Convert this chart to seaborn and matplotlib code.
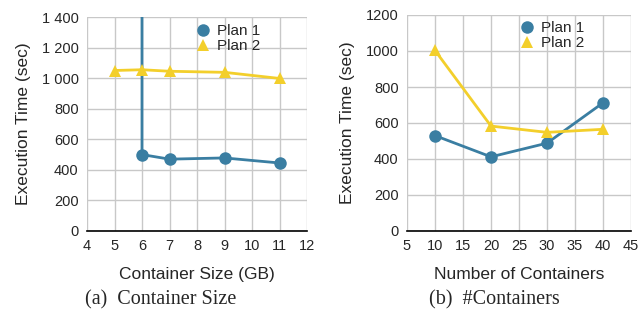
import pandas as pd
import seaborn as sns
import matplotlib.pyplot as plt
from matplotlib.ticker import FuncFormatter

# data (a): container size
size_p1 = [6, 6, 7, 9, 11]
time_size_p1 = [3000, 500, 470, 478, 445]  # first point off-chart -> vertical line
size_p2 = [5, 6, 7, 9, 11]
time_size_p2 = [1050, 1055, 1045, 1038, 998]

# data (b): number of containers
cont_x = [10, 20, 30, 40]
time_cont_p1 = [530, 412, 488, 712]
time_cont_p2 = [1003, 583, 548, 565]

blue = "#3a7ea2"
yellow = "#f3cf2b"

sns.set_style("whitegrid")
plt.rcParams["font.family"] = ["Liberation Sans", "DejaVu Sans"]

df_a = pd.concat([
    pd.DataFrame({"x": size_p1, "y": time_size_p1, "plan": "Plan 1"}),
    pd.DataFrame({"x": size_p2, "y": time_size_p2, "plan": "Plan 2"}),
])
df_b = pd.concat([
    pd.DataFrame({"x": cont_x, "y": time_cont_p1, "plan": "Plan 1"}),
    pd.DataFrame({"x": cont_x, "y": time_cont_p2, "plan": "Plan 2"}),
])

fig = plt.figure(figsize=(6.4, 3.18), dpi=100)
ax1 = fig.add_axes([87 / 640, 87 / 318, 220 / 640, 214 / 318])
ax2 = fig.add_axes([407 / 640, 87 / 318, 224 / 640, 216 / 318])

pal = {"Plan 1": blue, "Plan 2": yellow}
marks = {"Plan 1": "o", "Plan 2": "^"}

for ax, df, lx, ly in [(ax1, df_a, 0.424, 1.03), (ax2, df_b, 0.434, 1.035)]:
    sns.lineplot(data=df, x="x", y="y", hue="plan", style="plan",
                 palette=pal, markers=marks, dashes=False, estimator=None,
                 sort=False, linewidth=2, markersize=9, markeredgewidth=0,
                 ax=ax)
    ax.grid(True, color="#c8c8c8", linewidth=1)
    for s in ["left", "right", "top"]:
        ax.spines[s].set_visible(False)
    ax.spines["bottom"].set_color("black")
    ax.spines["bottom"].set_linewidth(1.2)
    ax.tick_params(length=0, labelsize=10.5, pad=6)
    ax.set_ylabel("Execution Time (sec)", fontsize=12.5, labelpad=8)
    leg = ax.legend(frameon=False, fontsize=11, loc="upper left",
                    bbox_to_anchor=(lx, ly), handletextpad=0.3,
                    labelspacing=0.05, handlelength=1.2)
    for h in leg.legend_handles:
        h.set_linestyle("none")

ax1.set_xlim(4, 12)
ax1.set_xticks(range(4, 13))
ax1.set_ylim(0, 1400)
ax1.set_yticks(range(0, 1401, 200))
ax1.yaxis.set_major_formatter(FuncFormatter(lambda v, p: f"{int(v):,}".replace(",", " ")))
ax1.set_xlabel("Container Size (GB)", fontsize=12.5, labelpad=10)

ax2.set_xlim(5, 45)
ax2.set_xticks(range(5, 46, 5))
ax2.set_ylim(0, 1200)
ax2.set_yticks(range(0, 1201, 200))
ax2.set_xlabel("Number of Containers", fontsize=12.5, labelpad=10)

fig.text(161 / 640, 0.057, "(a)  Container Size", family="Liberation Serif",
         fontsize=14.5, ha="center", va="center")
fig.text(494 / 640, 0.057, "(b)  #Containers", family="Liberation Serif",
         fontsize=14.5, ha="center", va="center")

fig.savefig("out.png", dpi=100)
